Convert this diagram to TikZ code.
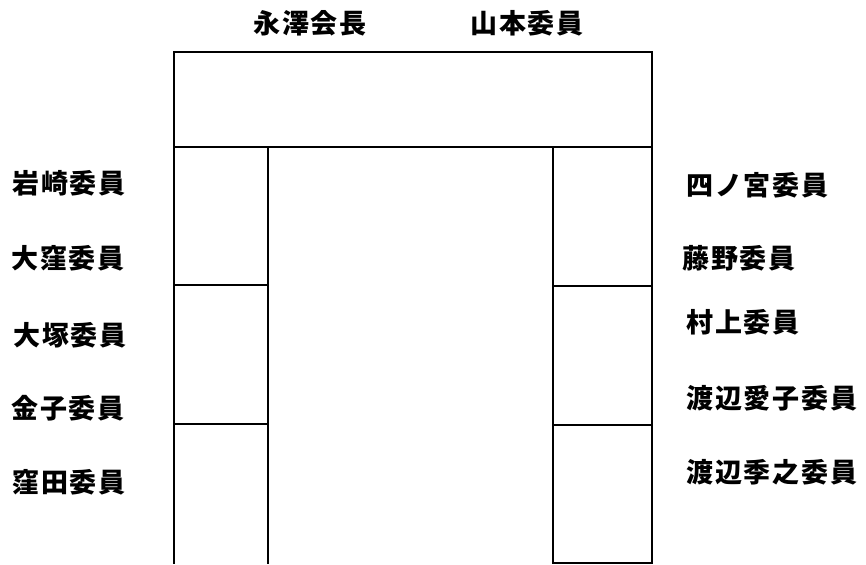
\documentclass[tikz,border=0pt]{standalone}
\usepackage{fontspec}
\setmainfont{Noto Sans CJK JP}[LetterSpace=7]
\tikzset{
  frame/.style={line width=1.4pt, black},
  lbl/.style={anchor=base west, inner sep=0pt, font=\fontsize{27pt}{27pt}\selectfont\bfseries}
}
\begin{document}
\begin{tikzpicture}[x=1pt,y=-1pt]
\useasboundingbox (0,0) rectangle (866,564);
% top table
\draw[frame] (174,52) rectangle (652,147);
% left column
\draw[frame] (174,147) -- (174,564);
\draw[frame] (268,147) -- (268,564);
\draw[frame] (174,285) -- (268,285);
\draw[frame] (174,424) -- (268,424);
% right column
\draw[frame] (553,147) rectangle (652,563);
\draw[frame] (553,286) -- (652,286);
\draw[frame] (553,425) -- (652,425);
% top labels
\node[lbl] (t1) at (253,34) {永澤会長};
\node[lbl] (t2) at (470,34) {山本委員};
% left labels
\node[lbl] (l1) at (12,193) {岩崎委員};
\node[lbl] (l2) at (11,268) {大窪委員};
\node[lbl] (l3) at (13,345) {大塚委員};
\node[lbl] (l4) at (11,418) {金子委員};
\node[lbl] (l5) at (12,492) {窪田委員};
% right labels
\node[lbl] (r1) at (686,195) {四ノ宮委員};
\node[lbl] (r2) at (682,268) {藤野委員};
\node[lbl] (r3) at (686,332) {村上委員};
\node[lbl] (r4) at (686,408) {渡辺愛子委員};
\node[lbl] (r5) at (686,482) {渡辺季之委員};
\end{tikzpicture}
\end{document}
